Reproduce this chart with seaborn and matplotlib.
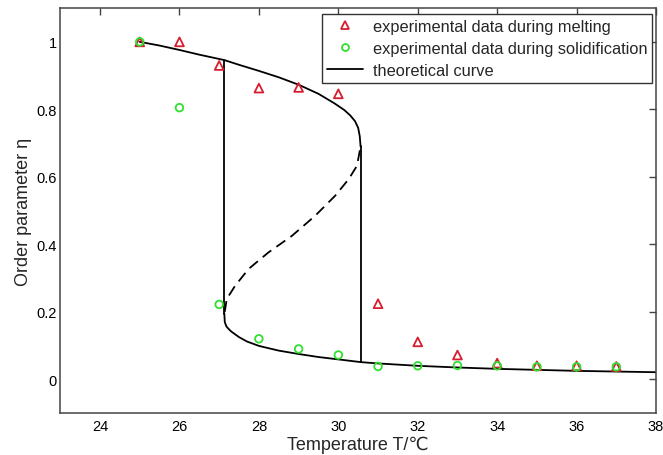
import matplotlib
matplotlib.use("Agg")
import matplotlib.pyplot as plt
import seaborn as sns
from matplotlib.lines import Line2D

# ---- data ----
temps = [25, 26, 27, 28, 29, 30, 31, 32, 33, 34, 35, 36, 37]
eta_melting = [1.0, 1.0, 0.93, 0.863, 0.865, 0.846, 0.224, 0.111, 0.072, 0.048, 0.040, 0.040, 0.038]
eta_solid = [1.0, 0.805, 0.222, 0.120, 0.090, 0.072, 0.038, 0.040, 0.041, 0.040, 0.037, 0.037, 0.037]

# theoretical curve: upper stable branch
T_upper = [25.0, 25.5, 26.0, 26.5, 27.13, 27.5, 28.0, 28.5, 29.0, 29.5, 29.9, 30.15, 30.3, 30.42, 30.5, 30.54, 30.56]
eta_upper = [1.0, 0.989, 0.976, 0.962, 0.946, 0.932, 0.914, 0.895, 0.873, 0.846, 0.818, 0.798, 0.782, 0.765, 0.745, 0.720, 0.690]
# unstable (dashed) branch
T_middle = [27.14, 27.19, 27.40, 27.74, 28.24, 28.83, 29.42, 29.92, 30.26, 30.47, 30.56]
eta_middle = [0.200, 0.238, 0.277, 0.327, 0.376, 0.425, 0.485, 0.544, 0.593, 0.633, 0.690]
# lower stable branch
T_lower = [27.13, 27.14, 27.18, 27.24, 27.3, 27.5, 27.7, 28.0, 28.5, 29.0, 29.5, 30.0, 30.56, 31.0, 32.0, 33.0, 34.0, 35.0, 36.0, 37.0, 38.0]
eta_lower = [0.195, 0.170, 0.157, 0.149, 0.142, 0.125, 0.112, 0.099, 0.085, 0.075, 0.066, 0.059, 0.051, 0.047, 0.040, 0.035, 0.031, 0.028, 0.025, 0.023, 0.021]
# hysteresis jumps (vertical lines)
T_jump = [27.13, 30.56]
eta_jump_top = [0.946, 0.690]
eta_jump_bottom = [0.195, 0.051]

legend_labels = ["experimental data during melting",
                 "experimental data during solidification",
                 "theoretical curve"]

sns.set_theme(style="white")
plt.rcParams['font.family'] = ['Liberation Sans', 'DejaVu Sans']

fig = plt.figure(figsize=(6.63, 4.56), dpi=100)
ax = fig.add_axes([0.091, 0.092, 0.8985, 0.888])

lw = 1.3
sns.lineplot(x=T_upper, y=eta_upper, sort=False, estimator=None, color='black', lw=lw, ax=ax)
sns.lineplot(x=T_lower, y=eta_lower, sort=False, estimator=None, color='black', lw=lw, ax=ax)
sns.lineplot(x=T_middle, y=eta_middle, sort=False, estimator=None, color='black', lw=lw,
             linestyle=(0, (6, 3.5)), ax=ax)
for t, top, bot in zip(T_jump, eta_jump_top, eta_jump_bottom):
    sns.lineplot(x=[t, t], y=[top, bot], sort=False, estimator=None, color='black', lw=lw, ax=ax)

red = '#d61e2e'
green = '#2fe02f'
sns.scatterplot(x=temps, y=eta_melting, marker='^', s=40, facecolor='none',
                edgecolor=red, linewidth=1.3, ax=ax, zorder=3)
sns.scatterplot(x=temps, y=eta_solid, marker='o', s=30, facecolor='none',
                edgecolor=green, linewidth=1.3, ax=ax, zorder=4)

ax.set_xlim(23, 38)
ax.set_ylim(-0.1, 1.1)
ax.set_xticks([24, 26, 28, 30, 32, 34, 36, 38])
ax.set_yticks([0, 0.2, 0.4, 0.6, 0.8, 1])
ax.set_yticklabels(['0', '0.2', '0.4', '0.6', '0.8', '1'])
ax.tick_params(direction='in', length=5, width=1, color='#444444', top=True, right=True,
               labelsize=10.5, labelcolor='black')
ax.tick_params(axis='x', pad=4)
ax.tick_params(axis='y', pad=2.5)
for sp in ax.spines.values():
    sp.set_color('#444444')
    sp.set_linewidth(1.1)
ax.set_xlabel('Temperature T/℃', fontsize=13, labelpad=2)
ax.set_ylabel('Order parameter η', fontsize=13, labelpad=3)

handles = [
    Line2D([], [], marker='^', linestyle='none', markerfacecolor='none',
           markeredgecolor=red, markeredgewidth=1.3, markersize=6),
    Line2D([], [], marker='o', linestyle='none', markerfacecolor='none',
           markeredgecolor=green, markeredgewidth=1.3, markersize=5),
    Line2D([], [], color='black', lw=lw),
]
leg = ax.legend(handles, legend_labels, loc='upper right', bbox_to_anchor=(0.994, 0.985),
                fontsize=11.8, frameon=True, fancybox=False, edgecolor='#333333',
                framealpha=1, borderaxespad=0, handlelength=2.2, handletextpad=0.6,
                labelspacing=0.42, borderpad=0.3)
leg.get_frame().set_linewidth(1.0)

fig.savefig('out.png', dpi=100)
